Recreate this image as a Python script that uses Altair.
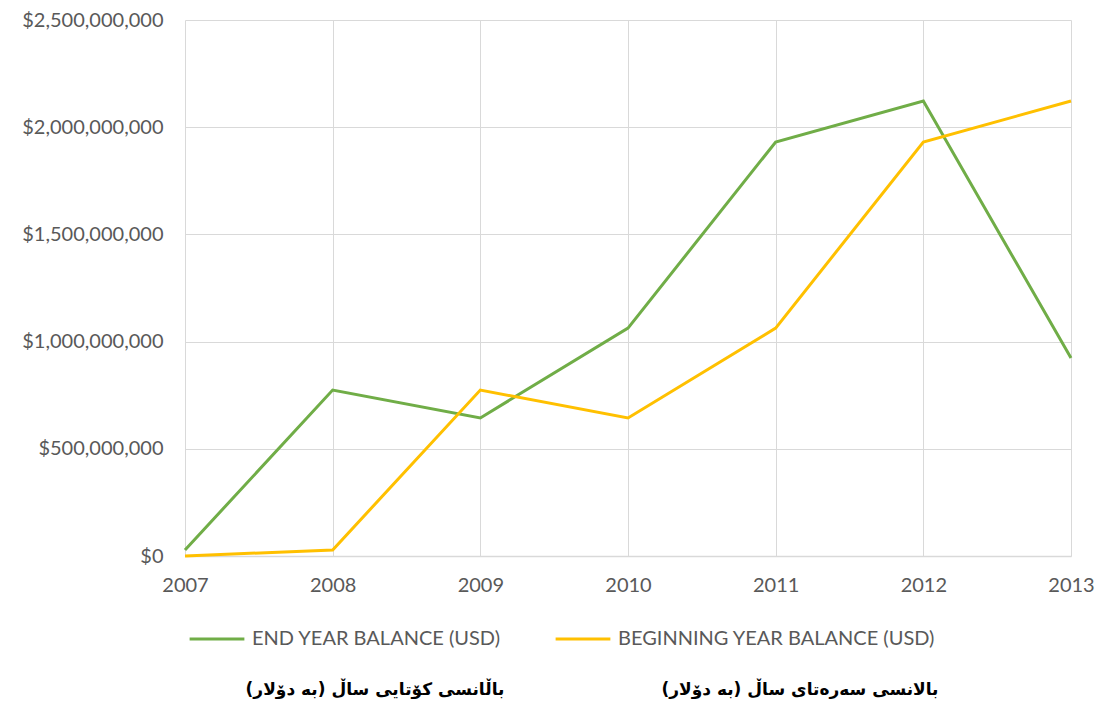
import altair as alt
import pandas as pd

years = [2007, 2008, 2009, 2010, 2011, 2012, 2013]
end_balance = [28e6, 774e6, 644e6, 1063e6, 1931e6, 2122e6, 923e6]
begin_balance = [0, 28e6, 774e6, 644e6, 1063e6, 1931e6, 2122e6]
series_names = ["END YEAR BALANCE (USD)", "BEGINNING YEAR BALANCE (USD)"]
series_colors = ["#70AD47", "#FFC000"]
kurdish_end = "باڵانسی کۆتایی ساڵ (بە دۆلار)"
kurdish_begin = "بالانسی سەرەتای ساڵ (بە دۆلار)"

rows = []
for i, y in enumerate(years):
    rows.append({"year": y, "value": end_balance[i], "series": series_names[0], "order": 0})
for i, y in enumerate(years):
    rows.append({"year": y, "value": begin_balance[i], "series": series_names[1], "order": 1})
df = pd.DataFrame(rows)

FONT = "Lato"

lines = alt.Chart(df).mark_line(strokeWidth=3, clip=False).encode(
    x=alt.X("year:Q", scale=alt.Scale(domain=[2007, 2013], nice=False),
            axis=alt.Axis(values=years, format="d", title=None, grid=True,
                          ticks=False, labelPadding=19, domain=True, labelFlush=False,
                          domainColor="#d9d9d9", domainWidth=1.5)),
    y=alt.Y("value:Q", scale=alt.Scale(domain=[0, 2.5e9], nice=False),
            axis=alt.Axis(values=[0, 5e8, 1e9, 1.5e9, 2e9, 2.5e9], format="$,.0f",
                          title=None, grid=True, ticks=False, domain=False,
                          labelPadding=22)),
    color=alt.Color("series:N", scale=alt.Scale(domain=series_names, range=series_colors),
                    legend=alt.Legend(title=None, orient="none", legendX=3, legendY=590,
                                      direction="horizontal", symbolType="stroke",
                                      symbolStrokeWidth=3, symbolSize=3000,
                                      labelFontSize=20, labelColor="#595959",
                                      labelFont=FONT, columnPadding=48, labelOffset=6,
                                      labelLimit=400)),
    order=alt.Order("order:Q"),
    detail="series:N",
)

txt_end = alt.Chart(pd.DataFrame({"t": [kurdish_end]})).mark_text(
    font="DejaVu Sans", fontWeight="bold", fontSize=17, color="#000000", align="center", baseline="middle"
).encode(text="t:N", x=alt.value(190), y=alt.value(670))

txt_begin = alt.Chart(pd.DataFrame({"t": [kurdish_begin]})).mark_text(
    font="DejaVu Sans", fontWeight="bold", fontSize=17, color="#000000", align="center", baseline="middle"
).encode(text="t:N", x=alt.value(615), y=alt.value(670))

chart = alt.layer(lines, txt_end, txt_begin).properties(
    width=886, height=536,
    autosize=alt.AutoSizeParams(type="none"),
    padding={"left": 177, "top": 12, "right": 25, "bottom": 148},
).configure(background="white").configure_view(stroke=None).configure_axis(
    labelFont=FONT, labelFontSize=20, labelColor="#595959", gridColor="#d9d9d9", gridWidth=1
)

chart.save("out.html", embed_options={"renderer": "svg", "actions": False})
